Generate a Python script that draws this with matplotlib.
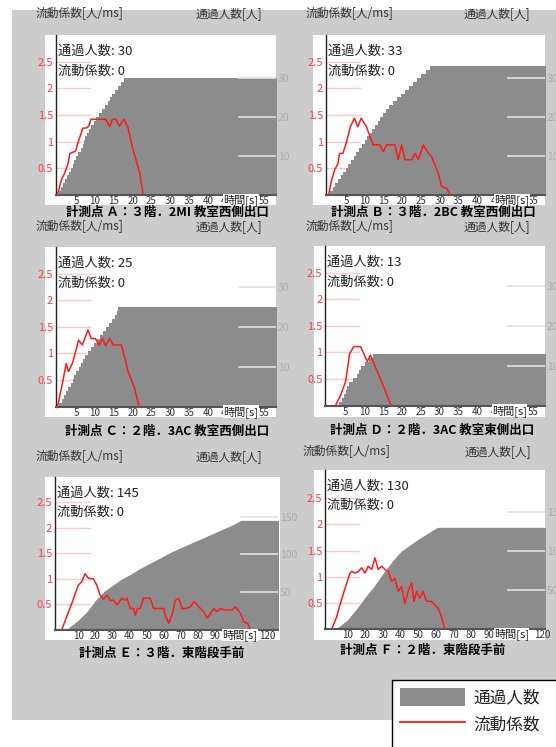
import numpy as np
import matplotlib
matplotlib.use("Agg")
import matplotlib.pyplot as plt
from matplotlib.patches import Rectangle, Patch
from matplotlib.lines import Line2D

plt.rcParams['font.family'] = ['Noto Sans CJK JP', 'DejaVu Sans']

W, H = 556, 747

# passing times [s] of each person (points A-D)
pass_A = [0.5, 1.0, 1.5, 2.0, 2.5, 3.0, 3.5, 4.0, 4.5, 5.0, 5.5, 6.3, 6.7, 7.0, 7.4,
          7.8, 8.4, 9.0, 9.6, 10.2, 11.0, 11.8, 12.6, 13.4, 14.0, 14.6, 15.2, 16.0, 16.8, 17.6]
pass_B = [0.7, 1.4, 2.1, 2.8, 3.5, 4.2, 4.9, 5.6, 6.3, 7.0, 7.7, 8.4, 9.1, 9.9, 10.6, 11.3,
          12.0, 12.7, 13.4, 14.1, 14.9, 15.7, 16.5, 17.6, 18.6, 19.6, 20.6, 21.7, 22.9, 24.0,
          25.1, 26.3, 27.4]
pass_C = [0.5, 1.1, 1.7, 2.3, 2.9, 3.5, 4.0, 4.5, 5.0, 5.6, 6.2, 6.7, 7.2, 8.0, 8.8, 9.6,
          10.4, 11.3, 12.1, 12.9, 13.7, 14.5, 15.2, 15.7, 16.2]
pass_D = [3.2, 4.0, 4.7, 5.1, 5.5, 5.9, 7.0, 8.1, 8.6, 9.0, 10.2, 11.2, 12.2]

# cumulative passing count (points E, F)
count_t_E = [0, 3, 5, 10, 15, 20, 25, 30, 35, 40, 45, 50, 55, 60, 65, 70, 75, 80, 85, 90,
             95, 100, 105, 127]
count_E = [0, 0, 4, 13, 24, 39, 51, 59, 67, 73, 80, 86, 92, 98, 104, 109, 114, 119, 124,
           129, 134, 139, 145, 145]
count_t_F = [0, 2, 5, 10, 15, 20, 25, 30, 35, 40, 45, 50, 55, 60, 61, 122]
count_F = [0, 0, 3, 12, 26, 41, 55, 71, 86, 99, 107, 115, 122, 129, 130, 130]

# flow coefficient [人/ms]
flow_t_A = [0.0, 1.0, 1.9, 2.8, 3.3, 4.0, 4.8, 5.4, 6.3, 6.7, 7.8, 8.3, 8.9, 12.8, 13.9,
            14.6, 15.5, 16.5, 17.6, 18.7, 20.1, 21.9, 22.8]
flow_A = [0.0, 0.28, 0.41, 0.59, 0.78, 0.80, 0.82, 0.97, 1.16, 1.25, 1.26, 1.29, 1.42, 1.42,
          1.28, 1.42, 1.42, 1.29, 1.42, 1.28, 0.85, 0.41, 0.0]
flow_t_B = [0.3, 1.0, 1.9, 2.8, 3.2, 4.1, 5.0, 6.1, 7.2, 8.1, 9.0, 10.4, 12.2, 14.0, 14.9,
            15.8, 18.0, 18.9, 19.8, 20.7, 22.5, 23.4, 24.3, 25.6, 27.0, 27.8, 29.6, 30.5,
            31.9, 32.8]
flow_B = [0.0, 0.25, 0.47, 0.59, 0.78, 0.78, 0.97, 1.28, 1.44, 1.28, 1.44, 1.28, 0.94, 0.94,
          0.81, 0.94, 0.94, 0.66, 0.94, 0.66, 0.66, 0.78, 0.66, 0.94, 0.78, 0.72, 0.41, 0.16,
          0.12, 0.0]
flow_t_C = [0.0, 1.4, 2.3, 2.9, 4.1, 5.6, 6.6, 8.1, 9.0, 10.1, 11.0, 11.9, 12.8, 13.9, 14.8,
            17.0, 18.8, 20.5, 21.7]
flow_C = [0.0, 0.47, 0.81, 0.66, 0.84, 1.25, 1.16, 1.44, 1.28, 1.28, 1.16, 1.28, 1.15, 1.28,
          1.16, 1.16, 0.66, 0.35, 0.0]
flow_t_D = [2.3, 3.7, 5.0, 6.1, 7.2, 9.0, 10.8, 11.6, 13.1, 15.3, 17.1]
flow_D = [0.0, 0.20, 0.45, 0.98, 1.11, 1.11, 0.83, 0.95, 0.70, 0.33, 0.0]
flow_t_E = [0.4, 3.3, 6.3, 10.1, 12.1, 14.0, 16.0, 18.9, 20.8, 22.8, 24.7, 26.7, 28.7, 30.6,
            32.6, 35.5, 37.4, 38.4, 40.4, 42.3, 43.3, 44.6, 46.2, 48.1, 52.0, 54.0, 59.8,
            60.8, 62.7, 64.7, 66.7, 68.6, 70.6, 72.5, 75.4, 77.4, 79.4, 81.3, 83.2, 85.2,
            87.1, 89.1, 91.0, 93.0, 95.9, 99.8, 101.8, 104.7, 106.6, 108.9, 110.5]
flow_E = [0.0, 0.26, 0.52, 0.88, 0.94, 1.10, 1.01, 1.00, 0.88, 0.68, 0.60, 0.68, 0.58, 0.58,
          0.49, 0.62, 0.58, 0.62, 0.42, 0.42, 0.29, 0.42, 0.42, 0.62, 0.62, 0.42, 0.42, 0.29,
          0.13, 0.29, 0.58, 0.62, 0.42, 0.42, 0.45, 0.55, 0.49, 0.42, 0.36, 0.23, 0.32, 0.42,
          0.36, 0.42, 0.39, 0.39, 0.45, 0.32, 0.16, 0.13, 0.0]
flow_t_F = [1.0, 3.8, 5.6, 8.5, 11.3, 12.3, 14.1, 16.0, 17.9, 19.8, 21.6, 23.6, 25.4, 27.3,
            29.2, 31.1, 33.0, 34.9, 36.7, 38.6, 40.5, 42.4, 44.2, 46.2, 47.5, 49.0, 50.8,
            52.7, 54.6, 57.5, 59.3, 61.2, 63.1, 65.0]
flow_F = [0.0, 0.24, 0.46, 0.78, 1.07, 1.10, 1.07, 1.10, 1.17, 1.07, 1.20, 1.14, 1.36, 1.14,
          1.20, 1.14, 1.10, 0.91, 0.97, 0.72, 0.81, 0.49, 0.72, 0.88, 0.53, 0.72, 0.59, 0.72,
          0.53, 0.53, 0.46, 0.40, 0.24, 0.0]

titles = ['計測点 Ａ：３階．2MI 教室西側出口', '計測点 Ｂ：３階．2BC 教室西側出口',
          '計測点 Ｃ：２階．3AC 教室西側出口', '計測点 Ｄ：２階．3AC 教室東側出口',
          '計測点 Ｅ：３階．東階段手前', '計測点 Ｆ：２階．東階段手前']
flow_ticks = [0.5, 1, 1.5, 2, 2.5]
flow_ticklabels = ['0.5', '1', '1.5', '2', '2.5']
xticks_short = [5, 10, 15, 20, 25, 30, 35, 40, 45, 55]
xticks_long = [10, 20, 30, 40, 50, 60, 70, 80, 90, 120]
count_ticks_small = [10, 20, 30]
count_ticks_large = [50, 100, 150]

GRAY = '#8c8c8c'
RED = '#ff1a1a'


def fx(x):
    return x / W


def fy(y):
    return 1 - y / H


def rect(l, t, r, b):
    return [l / W, 1 - b / H, (r - l) / W, (b - t) / H]


def steps(times, t_end):
    x = np.concatenate([[0.0], times, [t_end]])
    y = np.arange(len(x), dtype=float)
    y[-1] = len(times)
    return x, y


# pixel layout of each panel
layouts = [
    dict(box=(45, 35, 276, 205), axes=(56, 35, 275.5, 195), head=(36, 262, 14),
         title=(167.5, 212.5), tlab=0.843, xlim=(-0.4, 58), ytop=3.0, ctop=41),
    dict(box=(313, 35, 545, 205), axes=(326, 35, 544.5, 195), head=(306, 530, 14),
         title=(433, 212), tlab=0.85, xlim=(-0.4, 58), ytop=3.0, ctop=41),
    dict(box=(45, 247, 276, 417), axes=(56, 247, 275.5, 406.7), head=(36, 262, 227),
         title=(166.7, 431.7), tlab=0.843, xlim=(-0.4, 58), ytop=3.0, ctop=40),
    dict(box=(314, 246, 545, 417), axes=(325.3, 246, 544.5, 405.7), head=(306, 530, 226.7),
         title=(432, 430), tlab=0.84, xlim=(-0.4, 58), ytop=3.0, ctop=40),
    dict(box=(45, 476.5, 280, 640), axes=(55, 476.5, 278, 630), head=(36, 262, 457),
         title=(161.7, 653.3), tlab=0.83, xlim=(-3.5, 126.5), ytop=3.0, ctop=203),
    dict(box=(314, 469.5, 545, 639.5), axes=(325.3, 469.5, 544.5, 629), head=(303, 531, 452),
         title=(422.5, 650), tlab=0.85, xlim=(-2.7, 121.5), ytop=3.05, ctop=204),
]

fig = plt.figure(figsize=(W / 100, H / 100), dpi=100)
fig.add_artist(Rectangle((fx(12), fy(720)), (600 - 12) / W, (720 - 10) / H,
                         transform=fig.transFigure, facecolor='#cccccc',
                         edgecolor='none', zorder=-2))

series = [
    (steps(pass_A, 60), len(pass_A), flow_t_A, flow_A, 'post', xticks_short, count_ticks_small),
    (steps(pass_B, 60), len(pass_B), flow_t_B, flow_B, 'post', xticks_short, count_ticks_small),
    (steps(pass_C, 60), len(pass_C), flow_t_C, flow_C, 'post', xticks_short, count_ticks_small),
    (steps(pass_D, 60), len(pass_D), flow_t_D, flow_D, 'post', xticks_short, count_ticks_small),
    ((count_t_E, count_E), count_E[-1], flow_t_E, flow_E, None, xticks_long, count_ticks_large),
    ((count_t_F, count_F), count_F[-1], flow_t_F, flow_F, None, xticks_long, count_ticks_large),
]

for lay, (cnt, total, ft, fv, stp, xt, ct), title in zip(layouts, series, titles):
    l, t, r, b = lay['box']
    fig.add_artist(Rectangle((fx(l), fy(b)), (r - l) / W, (b - t) / H,
                             transform=fig.transFigure, facecolor='white',
                             edgecolor='none', zorder=-1))
    ax = fig.add_axes(rect(*lay['axes']))
    ax2 = ax.twinx()

    for v in flow_ticks:
        ax.axhline(v, xmax=0.155, color='#ffc9c9', lw=1.0)
    ax2.fill_between(cnt[0], cnt[1], step=stp, color=GRAY, lw=0, zorder=1)
    for n in ct:
        ax2.axhline(n, xmin=0.835, color='#e2e2e2', lw=1.2, zorder=2)
    ax2.plot(ft, fv, color=RED, lw=1.1, zorder=3, transform=ax.transData)

    ax.set_xlim(lay['xlim'])
    ax.set_ylim(0, lay['ytop'])
    ax2.set_ylim(0, lay['ctop'])

    ax.set_yticks(flow_ticks)
    ax.set_yticklabels(flow_ticklabels)
    ax.tick_params(axis='y', length=0, labelcolor='#ff4040', labelsize=8, pad=2)
    ax2.set_yticks(ct)
    ax2.tick_params(axis='y', length=0, labelcolor='#ababab', labelsize=7.5, pad=1.5)
    ax.set_xticks(xt)
    ax.tick_params(axis='x', length=0, labelsize=7, labelcolor='#333333', pad=1)

    for s in ax.spines.values():
        s.set_visible(False)
    ax2.spines['top'].set_visible(False)
    ax2.spines['right'].set_visible(False)
    ax2.spines['left'].set_color('#222222')
    ax2.spines['left'].set_linewidth(1.0)
    ax2.spines['bottom'].set_color('#555555')
    ax2.spines['bottom'].set_linewidth(1.5)

    ax2.annotate('時間[s]', xy=(lay['tlab'], 0), xycoords='axes fraction',
                 xytext=(0, -3.5), textcoords='offset points', ha='center', va='center',
                 fontsize=8, color='#222222', zorder=5,
                 bbox=dict(facecolor='white', edgecolor='none', pad=0.2))
    ax2.annotate(f'通過人数: {total}', xy=(0, 1), xycoords='axes fraction',
                 xytext=(1.5, -12), textcoords='offset points', ha='left', va='center',
                 fontsize=9.5, color='#222222', zorder=5)
    ax2.annotate('流動係数: 0', xy=(0, 1), xycoords='axes fraction',
                 xytext=(1.5, -26), textcoords='offset points', ha='left', va='center',
                 fontsize=9.5, color='#222222', zorder=5)

    hl, hr, hy = lay['head']
    fig.text(fx(hl), fy(hy), '流動係数[人/ms]', ha='left', va='center',
             fontsize=8.5, color='#333333')
    fig.text(fx(hr), fy(hy), '通過人数[人]', ha='right', va='center',
             fontsize=8.5, color='#333333')
    cx, cy = lay['title']
    fig.text(fx(cx), fy(cy), title, ha='center', va='center', fontsize=9,
             fontweight='bold', color='black')

# legend box
fig.add_artist(Rectangle((fx(392), fy(780)), (620 - 392) / W, (780 - 680) / H,
                         transform=fig.transFigure, facecolor='white',
                         edgecolor='black', lw=1.0, zorder=1))
handles = [Patch(facecolor=GRAY, edgecolor='none'), Line2D([], [], color=RED, lw=1.3)]
fig.legend(handles, ['通過人数', '流動係数'], loc='upper left',
           bbox_to_anchor=(fx(392), fy(680)), frameon=False, fontsize=12,
           handlelength=3.9, handleheight=1.26, handletextpad=0.5,
           labelspacing=0.5, borderpad=0.5, borderaxespad=0, labelcolor='#222222')

fig.savefig('out.png', dpi=100)
